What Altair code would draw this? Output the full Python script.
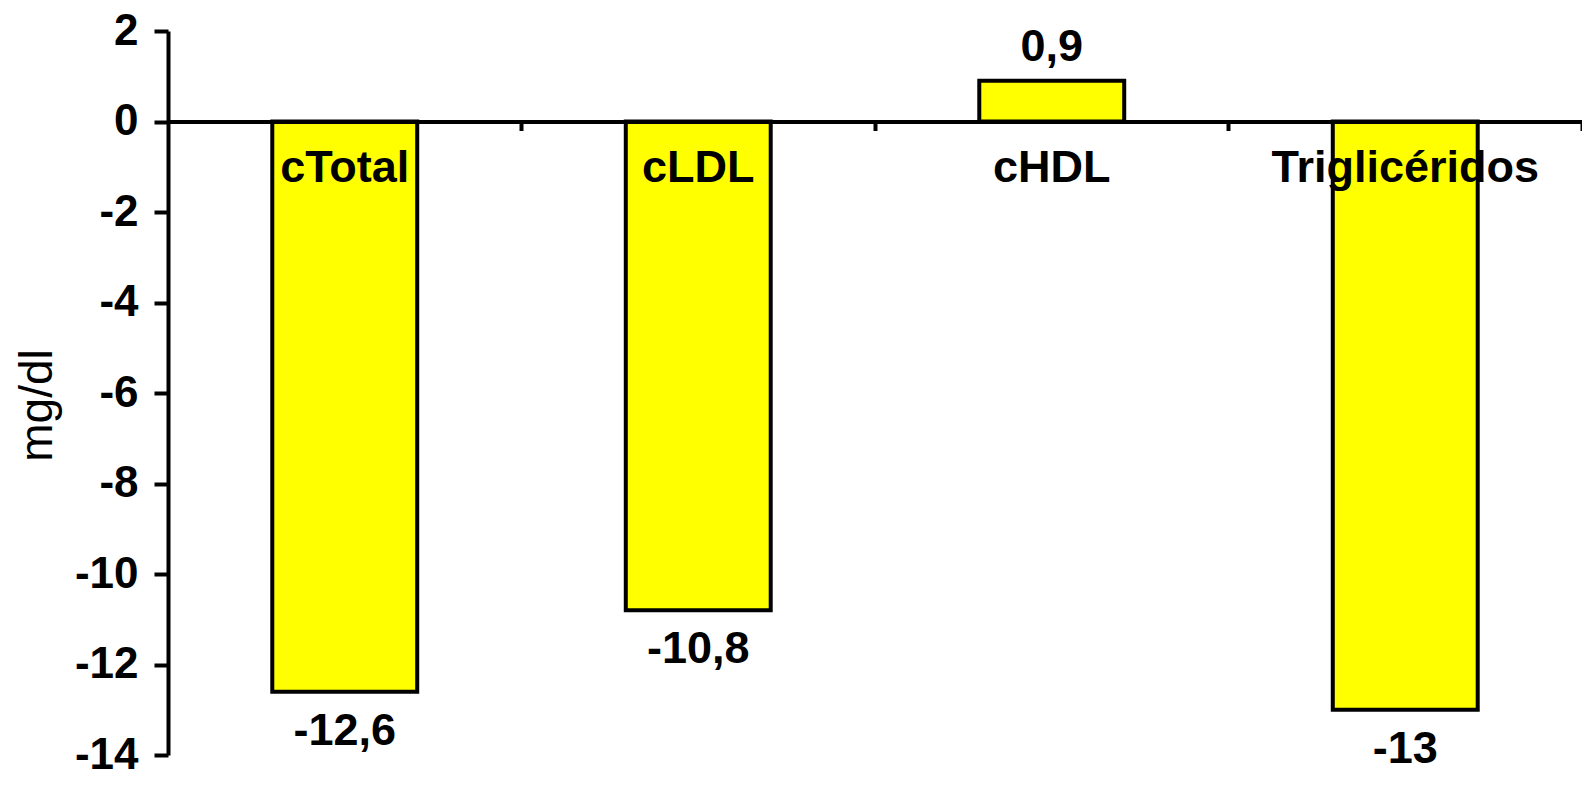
import altair as alt
import pandas as pd

categories = ["cTotal", "cLDL", "cHDL", "Triglicéridos"]
values = [-12.6, -10.8, 0.9, -13.0]
value_labels = ["-12,6", "-10,8", "0,9", "-13"]
y_ticks = [2, 0, -2, -4, -6, -8, -10, -12, -14]

df = pd.DataFrame({"cat": categories, "val": values, "lab": value_labels})

FONT = "Liberation Sans"
W, H = 1414, 724
y_domain = [-14, 2]
zero_offset = -(H * (0 - y_domain[0]) / (y_domain[1] - y_domain[0]))
P_INNER = 0.59
# put category ticks on the step boundaries (right side of each band)
tick_band_pos = 1 + (P_INNER / 2) / (1 - P_INNER)

x_scale = alt.Scale(paddingInner=P_INNER, paddingOuter=P_INNER / 2)

x_enc = alt.X(
    "cat:N",
    sort=None,
    title=None,
    scale=x_scale,
    axis=alt.Axis(
        offset=zero_offset,
        bandPosition=tick_band_pos,
        labels=False,
        tickSize=9,
        tickWidth=4,
        tickColor="black",
        domainColor="black",
        domainWidth=4,
        zindex=2,
        grid=False,
    ),
)

y_enc = alt.Y(
    "val:Q",
    scale=alt.Scale(domain=y_domain, nice=False, zero=False),
    axis=alt.Axis(
        values=y_ticks,
        labelExpr="'' + datum.value",
        title="mg/dl",
        titleFont=FONT,
        titleFontSize=46,
        titleFontWeight="normal",
        titleColor="black",
        titleX=-131,
        titleY=H / 2 + 12,
        titleBaseline="middle",
        tickSize=14,
        tickWidth=4,
        tickColor="black",
        domainColor="black",
        domainWidth=4,
        labelFont=FONT,
        labelFontSize=44,
        labelFontWeight="bold",
        labelColor="black",
        labelPadding=16,
        grid=False,
    ),
)

base = alt.Chart(df)

bars = base.mark_bar(color="#FFFF00", stroke="black", strokeWidth=4).encode(x=x_enc, y=y_enc)

cat_text = base.mark_text(
    font=FONT, fontSize=45, fontWeight="bold", color="black", baseline="alphabetic", dy=60
).encode(x=alt.X("cat:N", sort=None), y=alt.datum(0), text="cat:N")

pos_text = base.transform_filter("datum.val >= 0").mark_text(
    font=FONT, fontSize=45, fontWeight="bold", color="black", baseline="alphabetic", dy=-20
).encode(x=alt.X("cat:N", sort=None), y=alt.Y("val:Q"), text="lab:N")

neg_text = base.transform_filter("datum.val < 0").mark_text(
    font=FONT, fontSize=45, fontWeight="bold", color="black", baseline="alphabetic", dy=53
).encode(x=alt.X("cat:N", sort=None), y=alt.Y("val:Q"), text="lab:N")

chart = (
    alt.layer(bars, cat_text, pos_text, neg_text)
    .properties(
        width=W,
        height=H,
        padding={"left": 160, "top": 23, "right": 0, "bottom": 30},
        autosize=alt.AutoSizeParams(type="none"),
        background="white",
    )
    .configure_view(strokeWidth=0)
)

chart.save("out.html", embed_options={"renderer": "svg", "actions": False})
